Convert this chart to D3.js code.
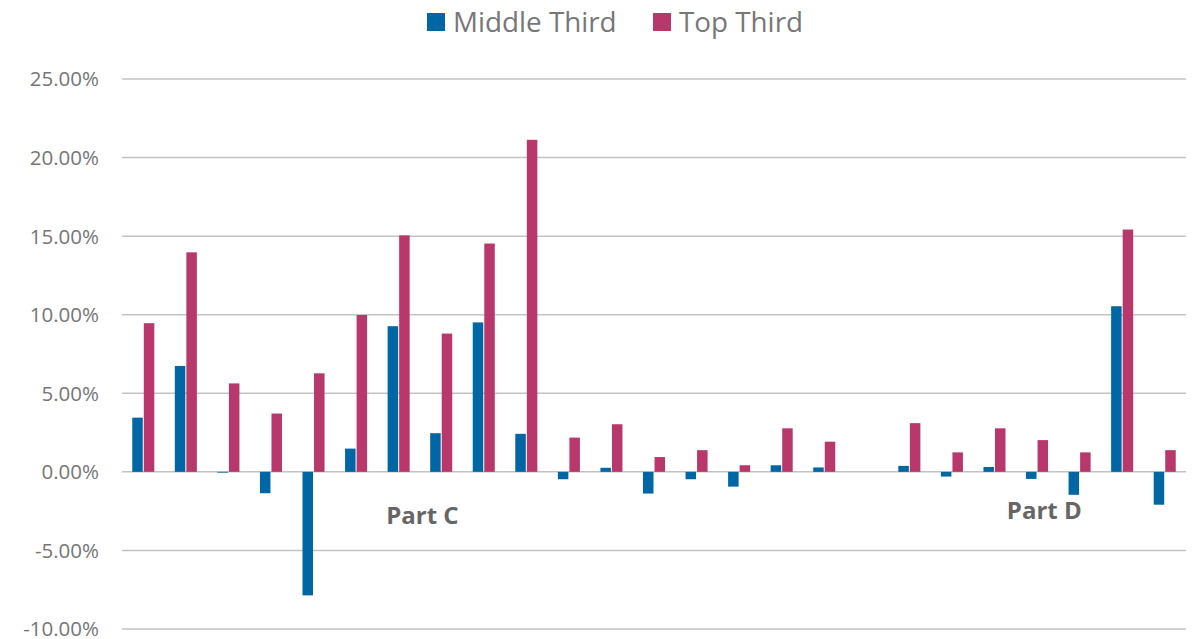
<!DOCTYPE html>
<html>
<head>
<meta charset="utf-8">
<script src="https://cdn.jsdelivr.net/npm/d3@7"></script>
<style>
  html, body { margin: 0; padding: 0; background: #fff; }
  svg { display: block; }
</style>
</head>
<body>
<svg id="chart" width="1197" height="639"></svg>
<script>
// ---- data ----
const categories = d3.range(1, 26).map(i => "C" + i);
const seriesNames = ["Middle Third", "Top Third"];
const middleThird = [3.45, 6.74, -0.05, -1.36, -7.86, 1.48, 9.27, 2.46, 9.51, 2.42,
                     -0.47, 0.26, -1.38, -0.47, -0.94, 0.42, 0.28, null, 0.38, -0.30,
                     0.31, -0.45, -1.46, 10.54, -2.09];
const topThird    = [9.46, 13.97, 5.63, 3.71, 6.27, 9.98, 15.05, 8.80, 14.53, 21.13,
                     2.18, 3.03, 0.94, 1.38, 0.42, 2.77, 1.92, null, 3.10, 1.24,
                     2.77, 2.02, 1.24, 15.42, 1.38];
const yTicks = [-10, -5, 0, 5, 10, 15, 20, 25];
const annotations = [
  { text: "Part C", cat: "C7", shift: 0.56, value: -3.31 },
  { text: "Part D", cat: "C22", shift: 0.17, value: -2.99 }
];
const colors = ["#0066a4", "#b8386b"];

// ---- layout ----
const svg = d3.select("#chart");
const plotLeft = 122, plotRight = 1186, plotTop = 79, plotBottom = 629;

const x = d3.scaleBand().domain(categories).range([plotLeft, plotRight]).paddingInner(0.482).paddingOuter(0.241);
const xs = d3.scaleBand().domain(seriesNames).range([0, x.bandwidth()]).paddingInner(0.09);
const y = d3.scaleLinear().domain([-10, 25]).range([plotBottom, plotTop]);

// gridlines
svg.append("g").selectAll("line").data(yTicks).join("line")
  .attr("x1", plotLeft).attr("x2", plotRight)
  .attr("y1", d => y(d)).attr("y2", d => y(d))
  .attr("stroke", "#c3c3c3").attr("stroke-width", 1.5);

// y axis labels
const yAxis = d3.axisLeft(y).tickValues(yTicks).tickSize(0).tickPadding(0)
  .tickFormat(d => d.toFixed(2) + "%");
const ga = svg.append("g").attr("transform", "translate(99,0)").call(yAxis);
ga.select(".domain").remove();
ga.selectAll("text")
  .attr("fill", "#767676")
  .attr("dy", "0.34em")
  .style("font-family", "'Open Sans', sans-serif")
  .style("font-size", "20.5px");

// bars
const data = [middleThird, topThird];
seriesNames.forEach((s, si) => {
  svg.append("g").selectAll("rect")
    .data(categories.map((c, i) => ({ c, v: data[si][i] })).filter(d => d.v !== null))
    .join("rect")
    .attr("x", d => x(d.c) + xs(s))
    .attr("width", xs.bandwidth())
    .attr("y", d => y(Math.max(0, d.v)))
    .attr("height", d => Math.max(0.8, Math.abs(y(d.v) - y(0))))
    .attr("fill", colors[si]);
});

// annotations
svg.append("g").selectAll("text").data(annotations).join("text")
  .attr("x", d => x(d.cat) + x.bandwidth() / 2 + d.shift * x.step())
  .attr("y", d => y(d.value))
  .attr("text-anchor", "middle")
  .attr("fill", "#666666")
  .style("font-family", "'Open Sans', sans-serif")
  .style("font-weight", "bold")
  .style("font-size", "24px")
  .text(d => d.text);

// legend
const legend = svg.append("g").attr("transform", "translate(427,0)");
const legX = [0, 226];
seriesNames.forEach((s, i) => {
  const g = legend.append("g").attr("transform", `translate(${legX[i]},0)`);
  g.append("rect").attr("x", 0).attr("y", 13).attr("width", 18).attr("height", 18).attr("fill", colors[i]);
  g.append("text").attr("x", 26).attr("y", 31.5)
    .attr("fill", "#777777")
    .style("font-family", "'Open Sans', sans-serif")
    .style("font-size", "27.8px")
    .text(s);
});
</script>
</body>
</html>
